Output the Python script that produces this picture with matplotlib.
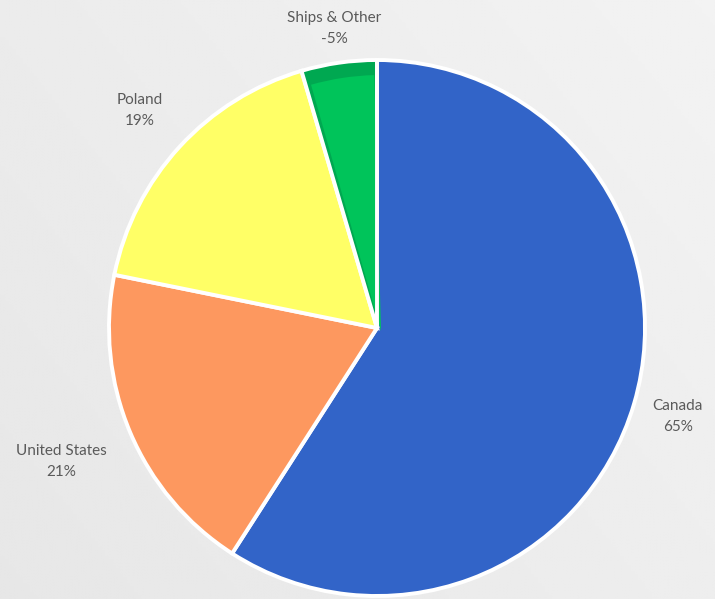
import numpy as np
import matplotlib.pyplot as plt
from matplotlib.patches import Wedge

regions = ["Canada", "United States", "Poland", "Ships & Other"]
shares = [65, 21, 19, -5]
colors = ["#3264C8", "#FD985F", "#FFFF66", "#00A851"]
label_dist = [1.17, 1.28, 1.2, 1.13]

fig = plt.figure(figsize=(7.15, 5.99), dpi=100)

# soft grey backdrop, a bit lighter towards the top right
bg = fig.add_axes([0, 0, 1, 1])
xx, yy = np.meshgrid(np.linspace(0, 1, 200), np.linspace(0, 1, 200))
shade = 0.905 + 0.045 * (0.6 * xx + 0.4 * yy)
bg.imshow(shade, cmap="gray", vmin=0, vmax=1, extent=[0, 1, 0, 1],
          origin="lower", aspect="auto")
bg.axis("off")

ax = fig.add_axes([0, 0, 1, 1])

cx, cy, r = 377, 271, 268
wedges, _ = ax.pie([abs(v) for v in shares], colors=colors, startangle=90,
                   counterclock=False, center=(cx, cy), radius=r,
                   wedgeprops=dict(edgecolor="white", linewidth=2.8),
                   frame=True)

# lighter core on the small green slice gives it a shaded rim
g = wedges[3]
ax.add_patch(Wedge((cx + 4, cy - 3), r - 12, g.theta1 + 1.5, g.theta2 - 0.5,
                   facecolor="#00C45A", edgecolor="none"))
ax.plot([cx, cx], [cy, cy + r], color="white", lw=2.8, solid_capstyle="butt")

ax.set_xlim(0, 715)
ax.set_ylim(0, 599)
ax.axis("off")

for w, name, v, d in zip(wedges, regions, shares, label_dist):
    ang = np.deg2rad((w.theta1 + w.theta2) / 2)
    ax.text(cx + d * r * np.cos(ang), cy + d * r * np.sin(ang),
            "%s\n%d%%" % (name, v), ha="center", va="center",
            fontsize=11, color="#5a5a5a", family="Lato", linespacing=1.65)

fig.savefig("out.png", dpi=100)
